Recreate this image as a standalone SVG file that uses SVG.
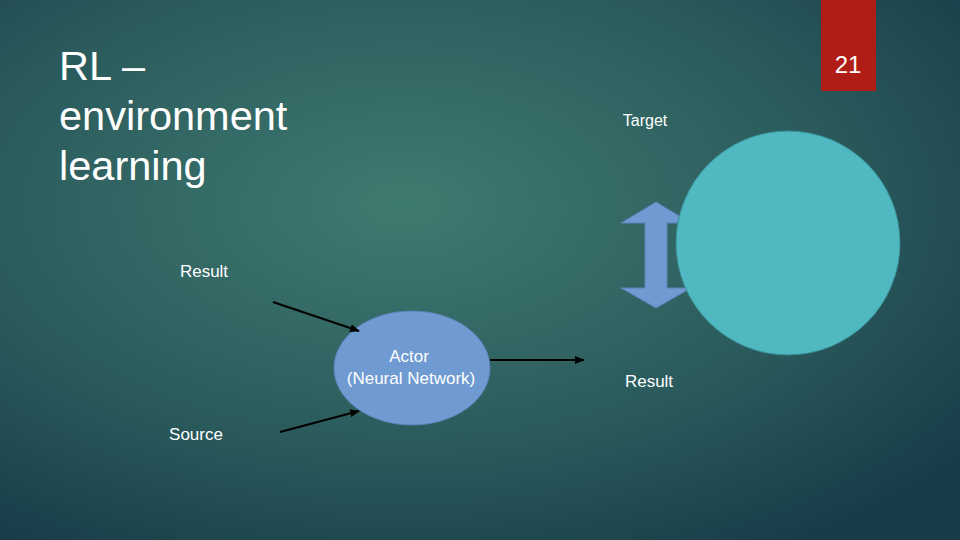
<svg xmlns="http://www.w3.org/2000/svg" width="960" height="540" viewBox="0 0 960 540">
<defs>
<radialGradient id="bg" cx="0.42" cy="0.38" r="0.75">
<stop offset="0" stop-color="#3f7a70"/><stop offset="0.6" stop-color="#2a5a5c"/><stop offset="1" stop-color="#173c48"/>
</radialGradient>
<marker id="ah" markerWidth="10" markerHeight="8" refX="9" refY="4" orient="auto" markerUnits="userSpaceOnUse"><path d="M0,0 L10,4 L0,8 z" fill="#000"/></marker>
</defs>
<style>
.t{font-family:"Liberation Sans",Arial,sans-serif;fill:#fff}
.c{stroke:#000;stroke-width:2;marker-end:url(#ah)}
</style>
<rect width="960" height="540" fill="url(#bg)"/>
<rect x="821" y="0" width="55" height="91" fill="#b01c16"/>
<text class="t" x="848" y="73" font-size="24" text-anchor="middle">21</text>
<g id="title"><text class="t" font-size="41.5"><tspan x="59" y="80">RL –</tspan><tspan x="59" y="130">environment</tspan><tspan x="59" y="180">learning</tspan></text></g>
<g id="target"><text class="t" x="645" y="126" font-size="16" text-anchor="middle">Target</text></g>
<g id="dbl"><path d="M656,202 L691,223 L667,223 L667,288 L691,288 L656,308 L621,288 L645,288 L645,223 L621,223 Z" fill="#6f9bd2" stroke="#5a83b8" stroke-width="1"/></g>
<g id="env"><circle cx="788" cy="243" r="112" fill="#4fb8c0" stroke="#3a8f95" stroke-width="1"/></g>
<g id="actor"><ellipse cx="412" cy="368" rx="78" ry="57" fill="#6f9bd2" stroke="#5a83b8"/>
<text class="t" font-size="17" text-anchor="middle"><tspan x="409" y="362">Actor</tspan><tspan x="411" y="384">(Neural Network)</tspan></text></g>
<g id="res1"><text class="t" x="204" y="277" font-size="17" text-anchor="middle">Result</text></g>
<g id="src"><text class="t" x="196" y="440" font-size="17" text-anchor="middle">Source</text></g>
<g id="res2"><text class="t" x="649" y="387" font-size="17" text-anchor="middle">Result</text></g>
<g id="connectors">
<line class="c" x1="273" y1="302" x2="359" y2="331"/>
<line class="c" x1="280" y1="432" x2="359" y2="411"/>
<line class="c" x1="490" y1="360" x2="584" y2="360"/>
</g>
</svg>
